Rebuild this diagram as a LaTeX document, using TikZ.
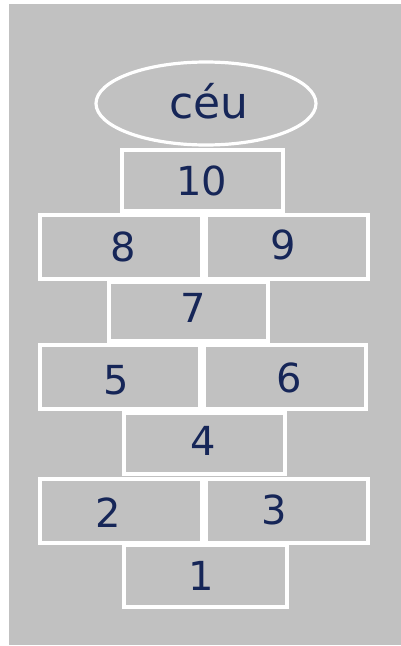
\documentclass[tikz,border=0pt]{standalone}
\usepackage{fontspec}
\setmainfont{DejaVu Sans}
\usetikzlibrary{shapes.geometric}
\definecolor{bggray}{RGB}{193,193,193}
\definecolor{ink}{RGB}{22,38,88}
\begin{document}
\begin{tikzpicture}[x=1pt,y=-1pt,
  cell/.style={draw=white,line width=3.2pt,rectangle,inner sep=0pt},
  lbl/.style={text=ink,font=\fontsize{40}{40}\selectfont,inner sep=0pt,anchor=center}]
\useasboundingbox (0,0) rectangle (401,646);
\fill[white] (0,0) rectangle (401,646);
\fill[bggray] (9,4) rectangle (401,645);
% sky
\node[draw=white,line width=3.2pt,ellipse,minimum width=220pt,minimum height=83pt,inner sep=0pt] (ceu) at (206,103.5) {};
\node[lbl,font=\fontsize{44}{44}\selectfont] (tceu) at (209,101) {céu};
% cells
\node[cell,minimum width=161pt,minimum height=61pt] (c10) at (202.5,180.5) {};
\node[cell,minimum width=162pt,minimum height=64pt] (c8) at (121,247) {};
\node[cell,minimum width=162pt,minimum height=64pt] (c9) at (287,247) {};
\node[cell,minimum width=159pt,minimum height=59pt] (c7) at (188.5,311.5) {};
\node[cell,minimum width=160pt,minimum height=64pt] (c5) at (120,377) {};
\node[cell,minimum width=162pt,minimum height=64pt] (c6) at (285,377) {};
\node[cell,minimum width=161pt,minimum height=61pt] (c4) at (204.5,443.5) {};
\node[cell,minimum width=162pt,minimum height=64pt] (c2) at (121,511) {};
\node[cell,minimum width=162pt,minimum height=64pt] (c3) at (287,511) {};
\node[cell,minimum width=163pt,minimum height=62pt] (c1) at (205.5,576) {};
% labels
\node[lbl] (t10) at (202,181) {10};
\node[lbl] (t8) at (123,247) {8};
\node[lbl] (t9) at (283,245) {9};
\node[lbl] (t7) at (193,308) {7};
\node[lbl] (t5) at (116,380) {5};
\node[lbl] (t6) at (289,378) {6};
\node[lbl] (t4) at (203,441) {4};
\node[lbl] (t2) at (108,513) {2};
\node[lbl] (t3) at (274,510) {3};
\node[lbl] (t1) at (201,576) {1};
\end{tikzpicture}
\end{document}
